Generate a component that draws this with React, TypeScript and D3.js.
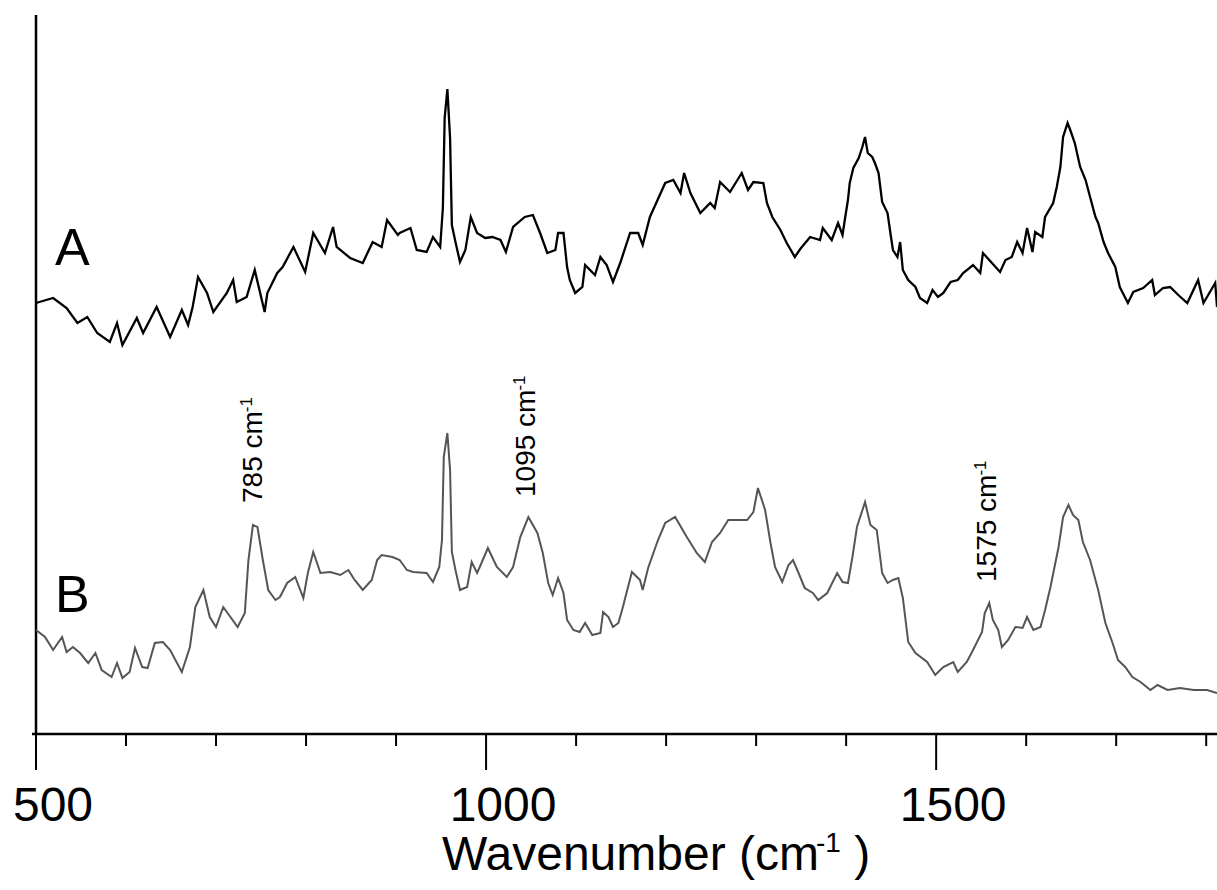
import React from 'react';
import * as d3 from 'd3';

// spectrum A (black)
const waveA = [500, 519, 534, 546, 557, 568, 582, 590, 596, 612, 619, 634, 649, 662, 669, 674, 680, 690, 697, 712,
  719, 723, 734, 743, 754, 757, 768, 774, 786, 799, 808, 821, 830, 834, 849, 863, 874, 884, 890, 902,
  904, 916, 923, 934, 941, 949, 952, 954, 957, 960, 962, 966, 971, 977, 983, 990, 999, 1007, 1016, 1022,
  1030, 1043, 1052, 1060, 1068, 1077, 1080, 1086, 1090, 1093, 1099, 1107, 1110, 1121, 1127, 1134, 1141, 1149, 1160, 1169,
  1174, 1182, 1193, 1199, 1208, 1216, 1220, 1227, 1238, 1249, 1254, 1260, 1271, 1284, 1291, 1297, 1308, 1312, 1318, 1327,
  1334, 1343, 1349, 1360, 1371, 1374, 1384, 1391, 1396, 1399, 1402, 1404, 1408, 1414, 1418, 1421, 1424, 1429, 1432, 1436,
  1440, 1446, 1449, 1452, 1457, 1460, 1463, 1469, 1477, 1482, 1490, 1496, 1502, 1508, 1516, 1524, 1530, 1541, 1549, 1552,
  1562, 1571, 1577, 1584, 1590, 1596, 1601, 1607, 1610, 1618, 1621, 1630, 1634, 1638, 1641, 1646, 1649, 1654, 1660, 1666,
  1671, 1677, 1680, 1686, 1691, 1699, 1704, 1713, 1719, 1730, 1740, 1743, 1752, 1760, 1769, 1779, 1791, 1797, 1810, 1812];
const intA = [432, 437, 427, 412, 418, 402, 393, 412, 390, 417, 402, 428, 398, 425, 410, 428, 458, 442, 423, 442,
  455, 433, 438, 465, 423, 442, 462, 468, 488, 463, 502, 482, 508, 488, 477, 472, 493, 488, 515, 500,
  502, 507, 485, 483, 498, 488, 527, 617, 646, 597, 510, 493, 473, 485, 518, 502, 497, 498, 495, 483,
  508, 518, 520, 502, 482, 485, 502, 502, 468, 455, 442, 448, 470, 460, 478, 470, 453, 472, 502, 502,
  490, 518, 540, 552, 555, 542, 562, 542, 522, 532, 527, 553, 543, 562, 545, 553, 552, 532, 518, 505,
  492, 478, 486, 498, 495, 507, 495, 512, 500, 518, 535, 552, 567, 577, 588, 598, 582, 578, 572, 562,
  533, 522, 503, 485, 478, 493, 465, 455, 448, 437, 432, 445, 438, 442, 453, 455, 462, 470, 462, 482,
  472, 463, 475, 478, 493, 482, 507, 483, 503, 498, 518, 532, 548, 568, 598, 612, 605, 592, 568, 555,
  538, 518, 512, 493, 482, 468, 448, 432, 443, 447, 455, 440, 447, 448, 440, 432, 455, 432, 452, 428];

// spectrum B (grey)
const waveB = [500, 510, 519, 529, 534, 541, 549, 558, 566, 573, 584, 590, 596, 604, 610, 618, 624, 632, 641, 649,
  662, 671, 677, 686, 693, 700, 708, 716, 724, 732, 736, 741, 746, 752, 758, 766, 771, 779, 788, 797,
  802, 808, 816, 827, 838, 847, 854, 863, 873, 879, 884, 896, 904, 912, 919, 934, 941, 948, 951, 953,
  957, 960, 962, 966, 971, 979, 984, 990, 993, 1002, 1012, 1023, 1030, 1038, 1047, 1057, 1063, 1069, 1074, 1080,
  1086, 1090, 1097, 1104, 1110, 1118, 1127, 1130, 1136, 1141, 1147, 1152, 1162, 1171, 1174, 1180, 1191, 1199, 1210, 1223,
  1234, 1243, 1251, 1260, 1269, 1279, 1290, 1297, 1302, 1310, 1316, 1321, 1329, 1336, 1341, 1349, 1354, 1363, 1369, 1379,
  1390, 1396, 1402, 1407, 1412, 1421, 1427, 1434, 1440, 1446, 1452, 1458, 1463, 1469, 1477, 1490, 1499, 1508, 1519, 1524,
  1534, 1541, 1551, 1554, 1559, 1563, 1569, 1573, 1580, 1588, 1596, 1601, 1608, 1616, 1621, 1627, 1636, 1641, 1647, 1652,
  1658, 1663, 1671, 1680, 1688, 1696, 1702, 1710, 1718, 1727, 1738, 1746, 1757, 1771, 1786, 1801, 1812];
const intB = [105, 98, 85, 98, 83, 88, 82, 72, 82, 65, 58, 72, 57, 63, 87, 68, 67, 92, 93, 85,
  63, 88, 128, 145, 118, 108, 128, 118, 108, 122, 175, 210, 208, 175, 145, 135, 138, 152, 158, 137,
  162, 183, 162, 163, 160, 165, 155, 145, 155, 175, 180, 178, 175, 165, 163, 162, 153, 168, 195, 278,
  302, 265, 183, 165, 145, 148, 173, 162, 168, 187, 168, 158, 168, 198, 218, 202, 182, 152, 140, 157,
  142, 115, 105, 103, 112, 100, 102, 123, 118, 108, 112, 128, 163, 155, 145, 167, 195, 212, 218, 198,
  182, 173, 193, 202, 215, 215, 215, 223, 247, 225, 192, 168, 153, 170, 175, 158, 147, 142, 135, 142,
  162, 153, 152, 178, 208, 233, 210, 205, 162, 152, 155, 157, 137, 93, 82, 73, 60, 68, 73, 63,
  73, 85, 103, 122, 132, 115, 105, 88, 95, 108, 107, 118, 105, 108, 125, 148, 188, 218, 230, 220,
  215, 193, 175, 145, 112, 92, 75, 68, 58, 53, 45, 50, 45, 47, 45, 45, 42];

const majorTicks = [500, 1000, 1500];
const minorTicks = [600, 700, 800, 900, 1100, 1200, 1300, 1400, 1600, 1700, 1800];

const traceNames = ['A', 'B'];
const traceNameHeight = [470, 123];

const peakLabels = ['785', '1095', '1575'];
const peakLabelPos = [751, 1054, 1566];
const peakLabelHeight = [232, 238, 153];

const W = 1217, H = 890;
const font = '"Liberation Sans", Arial, sans-serif';

export default function App() {
  const x = d3.scaleLinear().domain([500, 1812]).range([36, 1217]);
  const y = d3.scaleLinear().domain([0, 720]).range([735, 15]);
  const y0 = y(0) - 1;

  const line = d3.line<[number, number]>().x(d => x(d[0])).y(d => y(d[1]));
  const dataA = waveA.map((w, i) => [w, intA[i]] as [number, number]);
  const dataB = waveB.map((w, i) => [w, intB[i]] as [number, number]);

  return (
    <svg width={W} height={H} style={{position: 'absolute', left: 0, top: 0, background: '#fff'}}>
      {/* axes */}
      <line x1={x(500)} x2={x(500)} y1={15} y2={y0} stroke="#000" strokeWidth={2.5} />
      <line x1={32} x2={W} y1={y0} y2={y0} stroke="#000" strokeWidth={2.5} />
      {minorTicks.map(t => (
        <line key={'mi' + t} x1={x(t)} x2={x(t)} y1={y0} y2={y0 + 12} stroke="#000" strokeWidth={2} />
      ))}
      {majorTicks.map(t => (
        <line key={'ma' + t} x1={x(t)} x2={x(t)} y1={y0} y2={y0 + 36} stroke="#000" strokeWidth={2} />
      ))}
      {majorTicks.map(t => (
        <text key={'tl' + t} x={x(t) + 17} y={821} textAnchor="middle" fontFamily={font} fontSize={48}>{t}</text>
      ))}
      <text x={442} y={870} fontFamily={font} fontSize={48}>
        Wavenumber (cm
        <tspan dx={-3} dy={-18} fontSize={28}>-1</tspan>
        <tspan dy={18} fontSize={48}> )</tspan>
      </text>

      {/* spectra */}
      <path d={line(dataA) || ''} fill="none" stroke="#000" strokeWidth={2.3} strokeLinejoin="miter" />
      <path d={line(dataB) || ''} fill="none" stroke="#555" strokeWidth={2} strokeLinejoin="miter" />

      {traceNames.map((n, i) => (
        <text key={n} x={55} y={y(traceNameHeight[i])} fontFamily={font} fontSize={52}>{n}</text>
      ))}

      {peakLabels.map((p, i) => (
        <text key={p} transform={`translate(${x(peakLabelPos[i])},${y(peakLabelHeight[i])}) rotate(-90)`}
          fontFamily={font} fontSize={28}>
          {p} cm
          <tspan dx={-1} dy={-10} fontSize={17}>-1</tspan>
        </text>
      ))}
    </svg>
  );
}
